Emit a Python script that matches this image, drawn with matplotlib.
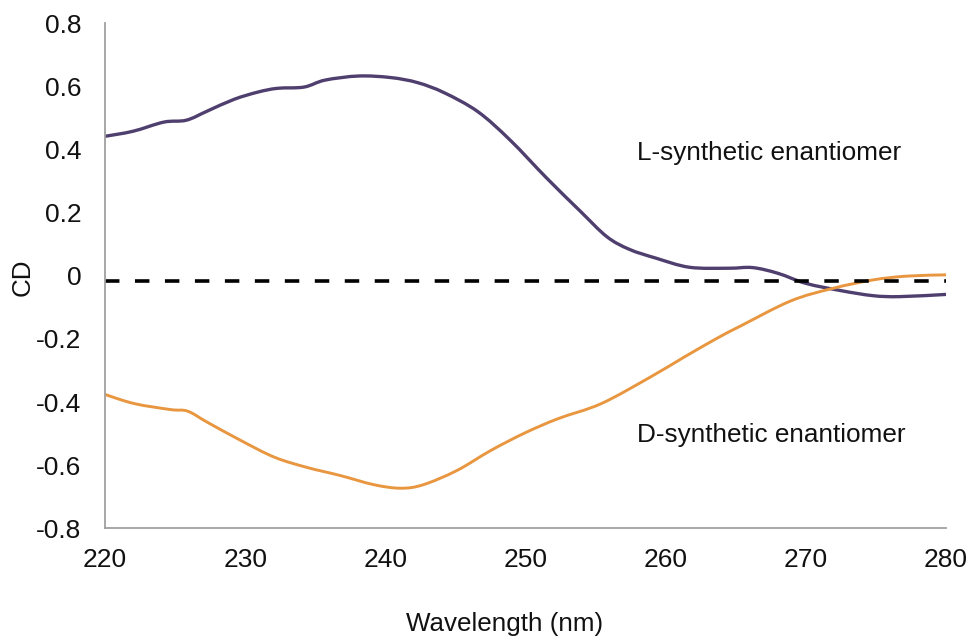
import numpy as np
import matplotlib
matplotlib.use("Agg")
import matplotlib.pyplot as plt
from matplotlib.path import Path
from matplotlib.patches import PathPatch

plt.rcParams['font.family'] = ['Liberation Sans', 'DejaVu Sans']

# L-synthetic enantiomer (purple)
l_wl = [220, 222.0, 224.2, 225.8, 227.3, 229.2, 230.9, 232.3, 234.2, 235.7, 238.1,
        240.4, 242.3, 244.2, 246.6, 248.9, 251.5, 253.9, 255.8, 257.4, 259.3, 261.7,
        264.5, 266.2, 268.0, 270.0, 272.5, 274.8, 276.7, 280]
l_cd = [0.442, 0.458, 0.487, 0.493, 0.522, 0.559, 0.582, 0.594, 0.598, 0.62, 0.633,
        0.628, 0.612, 0.58, 0.52, 0.43, 0.31, 0.205, 0.124, 0.084, 0.056, 0.027,
        0.024, 0.026, 0.008, -0.024, -0.047, -0.063, -0.066, -0.059]

# D-synthetic enantiomer (orange)
d_wl = [220, 222.1, 224.7, 225.9, 227.3, 229.7, 232.1, 234.4, 236.8, 239.2, 241.1,
        242.7, 245.1, 247.5, 249.9, 252.3, 255.4, 258.9, 261.3, 263.7, 265.3, 268.9,
        271.9, 274.8, 277.2, 280]
d_cd = [-0.376, -0.405, -0.424, -0.429, -0.464, -0.522, -0.575, -0.607, -0.633, -0.662,
        -0.673, -0.662, -0.617, -0.554, -0.499, -0.453, -0.405, -0.321, -0.258, -0.197,
        -0.16, -0.08, -0.04, -0.013, -0.001, 0.003]

baseline_wl = [220, 280]
baseline_cd = [-0.015, -0.015]

x_ticks = [220, 230, 240, 250, 260, 270, 280]
y_ticks = [-0.8, -0.6, -0.4, -0.2, 0, 0.2, 0.4, 0.6, 0.8]
y_labels = ['-0.8', '-0.6', '-0.4', '-0.2', '0', '0.2', '0.4', '0.6', '0.8']


def smooth_path(xs, ys):
    """Bezier path through the points (Catmull-Rom style, like a smoothed line)."""
    p = np.column_stack([xs, ys]).astype(float)
    n = len(p)
    verts = [p[0]]
    codes = [Path.MOVETO]
    t = 1.0 / 6.0
    for i in range(n - 1):
        p0 = p[i - 1] if i > 0 else p[i]
        p1 = p[i]
        p2 = p[i + 1]
        p3 = p[i + 2] if i + 2 < n else p[i + 1]
        c1 = p1 + (p2 - p0) * t
        c2 = p2 - (p3 - p1) * t
        verts += [c1, c2, p2]
        codes += [Path.CURVE4] * 3
    return Path(verts, codes)


fig = plt.figure(figsize=(9.76, 6.42), dpi=100)
ax = fig.add_axes([0.1076, 0.1771, 0.8617, 0.7866])

ax.add_patch(PathPatch(smooth_path(l_wl, l_cd), facecolor='none',
                       edgecolor='#4f3f6e', lw=2.4, capstyle='round', joinstyle='round'))
ax.add_patch(PathPatch(smooth_path(d_wl, d_cd), facecolor='none',
                       edgecolor='#e8963f', lw=2.1, capstyle='round', joinstyle='round'))
bl, = ax.plot(baseline_wl, baseline_cd, color='black', lw=2.6)
bl.set_dashes([4, 4.3])

ax.set_xlim(220, 280)
ax.set_ylim(-0.8, 0.8)
ax.set_xticks(x_ticks)
ax.set_xticklabels([str(t) for t in x_ticks])
ax.set_yticks(y_ticks)
ax.set_yticklabels(y_labels)
ax.tick_params(length=0, labelsize=19, colors='#111111')
ax.tick_params(axis='y', pad=17)
ax.tick_params(axis='x', pad=14)

for s in ['top', 'right']:
    ax.spines[s].set_visible(False)
for s in ['left', 'bottom']:
    ax.spines[s].set_color('#a0a0a0')
    ax.spines[s].set_linewidth(1.3)

fig.text(505 / 976, 1 - 624 / 642, 'Wavelength (nm)', fontsize=18.7, color='#111111',
         ha='center', va='center')
fig.text(23 / 976, 1 - 277 / 642, 'CD', fontsize=18.7, color='#111111',
         ha='center', va='center', rotation=90)

ax.text(0.633, 0.744, 'L-synthetic enantiomer', transform=ax.transAxes,
        fontsize=18.8, color='#111111', va='center', ha='left')
ax.text(0.633, 0.184, 'D-synthetic enantiomer', transform=ax.transAxes,
        fontsize=18.8, color='#111111', va='center', ha='left')

fig.savefig('out.png', dpi=100)
